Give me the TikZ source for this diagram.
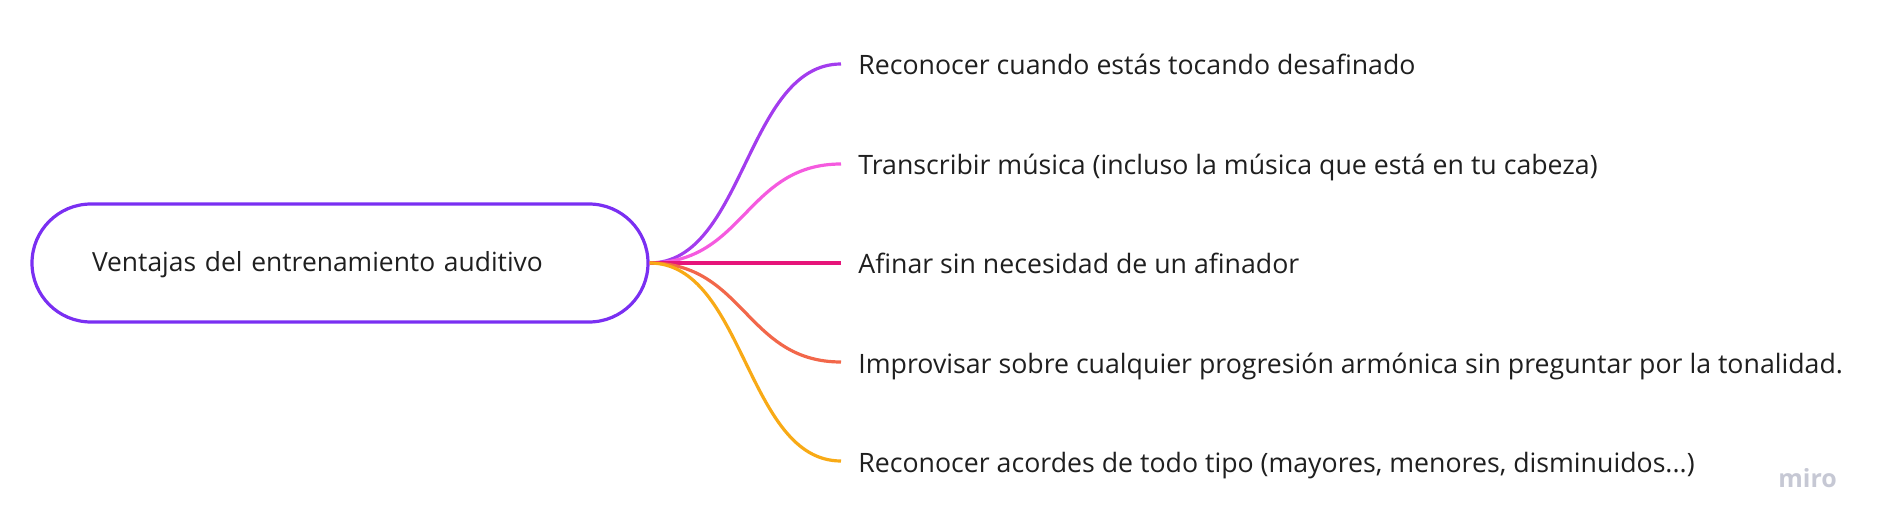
\documentclass[tikz,border=0pt]{standalone}
\usepackage{fontspec}
\setmainfont{Open Sans}
\definecolor{rootline}{HTML}{7A2FF2}
\definecolor{textgray}{HTML}{1F1F1F}
\definecolor{logogray}{HTML}{C6C8D4}
\definecolor{brA}{HTML}{A33CEE}
\definecolor{brB}{HTML}{F55ADF}
\definecolor{brC}{HTML}{E6157A}
\definecolor{brD}{HTML}{F2674A}
\definecolor{brE}{HTML}{F8AA16}

\begin{document}
\begin{tikzpicture}[x=0.5pt,y=0.5pt]
	\useasboundingbox (0,0) rectangle (1881,531);
	\begin{scope}[every node/.style={draw=rootline,line width=1.6pt,rounded corners=29.5pt,text width=248pt,align=left,inner xsep=30pt,minimum height=59pt,text height=12pt,text depth=3pt,text=textgray,font=\fontsize{13.2}{16}\selectfont}]
	\node (R) at (340,268) {Ventajas del entrenamiento auditivo};
	\end{scope}
	
	\begin{scope}[every node/.style={anchor=west,inner xsep=8.5pt,inner ysep=0pt,text height=13pt,text depth=2pt,text=textgray,font=\fontsize{13.35}{16}\selectfont}]
	\node (L1) at (841,467) {Reconocer cuando estás tocando desafinado};
	\node (L2) at (841,367) {Transcribir música (incluso la música que está en tu cabeza)};
	\node (L3) at (841,268) {Afinar sin necesidad de un afinador};
	\node (L4) at (841,169) {Improvisar sobre cualquier progresión armónica sin preguntar por la tonalidad.};
	\node (L5) at (841,70) {Reconocer acordes de todo tipo (mayores, menores, disminuidos...)};
	\end{scope}
	
	\node (M) [anchor=base west,inner sep=0pt,text=logogray,font=\fontsize{12.5}{14}\selectfont\bfseries] at (1778,44) {miro};
	
	\draw [line width=1.6pt,brA] (R.east) .. controls +(95,0) and +(-95,0) .. (L1.west);
	\draw [line width=1.6pt,brB] (R.east) .. controls +(95,0) and +(-95,0) .. (L2.west);
	\draw [line width=1.6pt,brC] (R.east) -- (L3.west);
	\draw [line width=1.6pt,brD] (R.east) .. controls +(95,0) and +(-95,0) .. (L4.west);
	\draw [line width=1.6pt,brE] (R.east) .. controls +(95,0) and +(-95,0) .. (L5.west);
\end{tikzpicture}
\end{document}
